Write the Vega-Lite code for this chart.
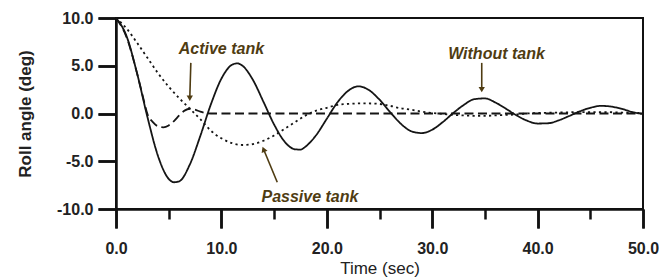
{
  "$schema": "https://vega.github.io/schema/vega-lite/v6.json",
  "autosize": {"type": "none"},
  "width": 527,
  "height": 191,
  "padding": {"left": 116, "top": 18, "right": 16, "bottom": 70},
  "background": "white",
  "config": {
    "view": {"stroke": "#111", "strokeWidth": 2},
    "font": "Liberation Sans",
    "axis": {"domainColor": "#111", "domainWidth": 2.5, "tickColor": "#111", "tickWidth": 2.5, "grid": false, "labelColor": "#222", "titleColor": "#222"}
  },
  "resolve": {"axis": {"x": "independent", "y": "independent"}},
  "datasets": {
    "curves": [
      {"t": 0, "y": 10, "series": "Without tank"},
      {"t": 1, "y": 8.1, "series": "Without tank"},
      {"t": 2, "y": 4.2, "series": "Without tank"},
      {"t": 3, "y": -0.45, "series": "Without tank"},
      {"t": 4, "y": -4.5, "series": "Without tank"},
      {"t": 5, "y": -6.85, "series": "Without tank"},
      {"t": 5.5, "y": -7.2, "series": "Without tank"},
      {"t": 6, "y": -7.1, "series": "Without tank"},
      {"t": 7, "y": -5.35, "series": "Without tank"},
      {"t": 8, "y": -2.35, "series": "Without tank"},
      {"t": 9, "y": 0.95, "series": "Without tank"},
      {"t": 10, "y": 3.65, "series": "Without tank"},
      {"t": 11, "y": 5.1, "series": "Without tank"},
      {"t": 11.5, "y": 5.25, "series": "Without tank"},
      {"t": 12, "y": 5.0, "series": "Without tank"},
      {"t": 13, "y": 3.5, "series": "Without tank"},
      {"t": 14, "y": 1.2, "series": "Without tank"},
      {"t": 15, "y": -1.15, "series": "Without tank"},
      {"t": 16, "y": -2.95, "series": "Without tank"},
      {"t": 17, "y": -3.75, "series": "Without tank"},
      {"t": 17.5, "y": -3.78, "series": "Without tank"},
      {"t": 18, "y": -3.45, "series": "Without tank"},
      {"t": 19, "y": -2.25, "series": "Without tank"},
      {"t": 20, "y": -0.55, "series": "Without tank"},
      {"t": 21, "y": 1.15, "series": "Without tank"},
      {"t": 22, "y": 2.35, "series": "Without tank"},
      {"t": 23, "y": 2.85, "series": "Without tank"},
      {"t": 24, "y": 2.45, "series": "Without tank"},
      {"t": 25, "y": 1.45, "series": "Without tank"},
      {"t": 26, "y": 0.15, "series": "Without tank"},
      {"t": 27, "y": -1.05, "series": "Without tank"},
      {"t": 28, "y": -1.85, "series": "Without tank"},
      {"t": 29, "y": -2.05, "series": "Without tank"},
      {"t": 30, "y": -1.7, "series": "Without tank"},
      {"t": 31, "y": -0.9, "series": "Without tank"},
      {"t": 32, "y": 0.05, "series": "Without tank"},
      {"t": 33, "y": 0.9, "series": "Without tank"},
      {"t": 34, "y": 1.5, "series": "Without tank"},
      {"t": 35, "y": 1.58, "series": "Without tank"},
      {"t": 36, "y": 1.15, "series": "Without tank"},
      {"t": 37, "y": 0.5, "series": "Without tank"},
      {"t": 38, "y": -0.2, "series": "Without tank"},
      {"t": 39, "y": -0.75, "series": "Without tank"},
      {"t": 40, "y": -1.05, "series": "Without tank"},
      {"t": 41, "y": -1.02, "series": "Without tank"},
      {"t": 42, "y": -0.72, "series": "Without tank"},
      {"t": 43, "y": -0.26, "series": "Without tank"},
      {"t": 44, "y": 0.22, "series": "Without tank"},
      {"t": 45, "y": 0.6, "series": "Without tank"},
      {"t": 46, "y": 0.8, "series": "Without tank"},
      {"t": 47, "y": 0.72, "series": "Without tank"},
      {"t": 48, "y": 0.48, "series": "Without tank"},
      {"t": 49, "y": 0.15, "series": "Without tank"},
      {"t": 50, "y": -0.05, "series": "Without tank"},

      {"t": 0, "y": 10, "series": "Passive tank"},
      {"t": 1, "y": 8.9, "series": "Passive tank"},
      {"t": 2, "y": 7.4, "series": "Passive tank"},
      {"t": 3, "y": 5.8, "series": "Passive tank"},
      {"t": 4, "y": 4.2, "series": "Passive tank"},
      {"t": 5, "y": 2.8, "series": "Passive tank"},
      {"t": 6, "y": 1.6, "series": "Passive tank"},
      {"t": 7, "y": 0.5, "series": "Passive tank"},
      {"t": 8, "y": -0.6, "series": "Passive tank"},
      {"t": 9, "y": -1.8, "series": "Passive tank"},
      {"t": 10, "y": -2.6, "series": "Passive tank"},
      {"t": 11, "y": -3.1, "series": "Passive tank"},
      {"t": 12, "y": -3.3, "series": "Passive tank"},
      {"t": 13, "y": -3.2, "series": "Passive tank"},
      {"t": 14, "y": -2.85, "series": "Passive tank"},
      {"t": 15, "y": -2.3, "series": "Passive tank"},
      {"t": 16, "y": -1.6, "series": "Passive tank"},
      {"t": 17, "y": -0.9, "series": "Passive tank"},
      {"t": 18, "y": -0.2, "series": "Passive tank"},
      {"t": 19, "y": 0.3, "series": "Passive tank"},
      {"t": 20, "y": 0.6, "series": "Passive tank"},
      {"t": 21, "y": 0.9, "series": "Passive tank"},
      {"t": 22, "y": 1.0, "series": "Passive tank"},
      {"t": 23, "y": 1.05, "series": "Passive tank"},
      {"t": 24, "y": 1.05, "series": "Passive tank"},
      {"t": 25, "y": 1.0, "series": "Passive tank"},
      {"t": 26, "y": 0.8, "series": "Passive tank"},
      {"t": 27, "y": 0.55, "series": "Passive tank"},
      {"t": 28, "y": 0.4, "series": "Passive tank"},
      {"t": 29, "y": 0.2, "series": "Passive tank"},
      {"t": 30, "y": 0.05, "series": "Passive tank"},
      {"t": 31, "y": -0.05, "series": "Passive tank"},
      {"t": 32, "y": -0.15, "series": "Passive tank"},
      {"t": 33, "y": -0.2, "series": "Passive tank"},
      {"t": 34, "y": -0.25, "series": "Passive tank"},
      {"t": 35, "y": -0.25, "series": "Passive tank"},
      {"t": 36, "y": -0.2, "series": "Passive tank"},
      {"t": 37, "y": -0.15, "series": "Passive tank"},
      {"t": 38, "y": -0.1, "series": "Passive tank"},
      {"t": 39, "y": 0.0, "series": "Passive tank"},
      {"t": 40, "y": 0.05, "series": "Passive tank"},
      {"t": 42, "y": 0.1, "series": "Passive tank"},
      {"t": 44, "y": 0.15, "series": "Passive tank"},
      {"t": 46, "y": 0.15, "series": "Passive tank"},
      {"t": 48, "y": 0.1, "series": "Passive tank"},
      {"t": 50, "y": 0.05, "series": "Passive tank"},

      {"t": 0, "y": 10, "series": "Active tank"},
      {"t": 1, "y": 8.0, "series": "Active tank"},
      {"t": 2, "y": 4.2, "series": "Active tank"},
      {"t": 2.5, "y": 2.0, "series": "Active tank"},
      {"t": 3, "y": -0.1, "series": "Active tank"},
      {"t": 3.5, "y": -0.9, "series": "Active tank"},
      {"t": 4, "y": -1.35, "series": "Active tank"},
      {"t": 4.5, "y": -1.45, "series": "Active tank"},
      {"t": 5, "y": -1.25, "series": "Active tank"},
      {"t": 5.5, "y": -0.8, "series": "Active tank"},
      {"t": 6, "y": -0.2, "series": "Active tank"},
      {"t": 6.5, "y": 0.3, "series": "Active tank"},
      {"t": 7, "y": 0.5, "series": "Active tank"},
      {"t": 7.5, "y": 0.4, "series": "Active tank"},
      {"t": 8, "y": 0.2, "series": "Active tank"},
      {"t": 8.5, "y": 0.05, "series": "Active tank"},
      {"t": 9, "y": 0.0, "series": "Active tank"},
      {"t": 20, "y": 0.0, "series": "Active tank"},
      {"t": 30, "y": 0.0, "series": "Active tank"},
      {"t": 40, "y": 0.0, "series": "Active tank"},
      {"t": 50, "y": 0.0, "series": "Active tank"}
    ],
    "labels": [
      {"t": 10.0, "y": 6.8, "text": "Active tank"},
      {"t": 36.1, "y": 6.25, "text": "Without tank"},
      {"t": 18.4, "y": -8.75, "text": "Passive tank"}
    ],
    "arrows": [
      {"t": 7.1, "y": 5.3, "t2": 7.0, "y2": 1.6},
      {"t": 34.7, "y": 5.3, "t2": 34.7, "y2": 2.5},
      {"t": 15.3, "y": -7.2, "t2": 14.0, "y2": -3.75}
    ],
    "headsDown": [
      {"t": 7.0, "y": 1.6},
      {"t": 34.7, "y": 2.5}
    ],
    "headsSlant": [
      {"t": 14.0, "y": -3.75}
    ]
  },
  "encoding": {
    "x": {"field": "t", "type": "quantitative", "scale": {"domain": [0, 50], "nice": false}, "axis": null},
    "y": {"field": "y", "type": "quantitative", "scale": {"domain": [-10, 10], "nice": false}, "axis": null}
  },
  "layer": [
    {
      "data": {"name": "curves"},
      "mark": {"type": "line", "interpolate": "monotone", "color": "#151515", "strokeWidth": 1.8},
      "encoding": {
        "x": {
          "field": "t", "type": "quantitative", "scale": {"domain": [0, 50], "nice": false},
          "axis": {
            "orient": "bottom",
            "values": [0, 10, 20, 30, 40, 50],
            "format": ".1f",
            "tickSize": 19,
            "labelFontSize": 16, "labelFontWeight": "bold", "labelPadding": 12,
            "labelFlush": false,
            "title": "Time (sec)", "titleFontSize": 17, "titleFontWeight": "normal", "titlePadding": 4
          }
        },
        "y": {
          "field": "y", "type": "quantitative", "scale": {"domain": [-10, 10], "nice": false},
          "axis": {
            "orient": "left",
            "values": [-10, -5, 0, 5, 10],
            "labelExpr": "replace(format(datum.value, '.1f'), '\u2212', '-')",
            "tickSize": 18, "labelPadding": 5,
            "labelFontSize": 16, "labelFontWeight": "bold",
            "title": "Roll angle (deg)", "titleFontSize": 17, "titleFontWeight": "bold", "titlePadding": 22
          }
        },
        "strokeDash": {
          "field": "series", "type": "nominal",
          "scale": {"domain": ["Without tank", "Passive tank", "Active tank"], "range": [[1, 0], [2.2, 3.3], [9, 4.5]]},
          "legend": null
        }
      }
    },
    {
      "data": {"name": "headsDown"},
      "mark": {"type": "point", "opacity": 0},
      "encoding": {
        "x": {
          "field": "t", "type": "quantitative", "scale": {"domain": [0, 50], "nice": false},
          "axis": {"orient": "top", "offset": -191, "values": [0, 10, 20, 30, 40, 50], "ticks": true, "tickSize": -19, "labels": false, "domain": false, "title": null}
        }
      }
    },
    {
      "data": {"name": "headsDown"},
      "mark": {"type": "point", "opacity": 0},
      "encoding": {
        "x": {
          "field": "t", "type": "quantitative", "scale": {"domain": [0, 50], "nice": false},
          "axis": {"orient": "top", "offset": -191, "values": [5, 15, 25, 35, 45], "ticks": true, "tickSize": -10, "labels": false, "domain": false, "title": null}
        }
      }
    },
    {
      "data": {"name": "headsDown"},
      "mark": {"type": "point", "opacity": 0},
      "encoding": {
        "y": {
          "field": "y", "type": "quantitative", "scale": {"domain": [-10, 10], "nice": false},
          "axis": {"orient": "right", "offset": -527, "values": [-10, -5, 0, 5, 10], "ticks": true, "tickSize": -18, "labels": false, "domain": false, "title": null}
        }
      }
    },
    {
      "data": {"name": "labels"},
      "mark": {"type": "text", "font": "Liberation Sans", "fontSize": 16, "fontWeight": "bold", "fontStyle": "italic", "color": "#4f3c12", "baseline": "middle", "align": "center"},
      "encoding": {
        "text": {"field": "text"}
      }
    },
    {
      "data": {"name": "arrows"},
      "mark": {"type": "rule", "color": "#4f3c12", "strokeWidth": 1.6},
      "encoding": {
        "x2": {"field": "t2"},
        "y2": {"field": "y2"}
      }
    },
    {
      "data": {"name": "headsDown"},
      "mark": {"type": "point", "shape": "triangle-down", "filled": true, "color": "#4f3c12", "size": 40, "opacity": 1},
      "encoding": {}
    },
    {
      "data": {"name": "headsSlant"},
      "mark": {"type": "point", "shape": "triangle-up", "filled": true, "color": "#4f3c12", "size": 40, "angle": -22, "opacity": 1},
      "encoding": {}
    }
  ]
}
